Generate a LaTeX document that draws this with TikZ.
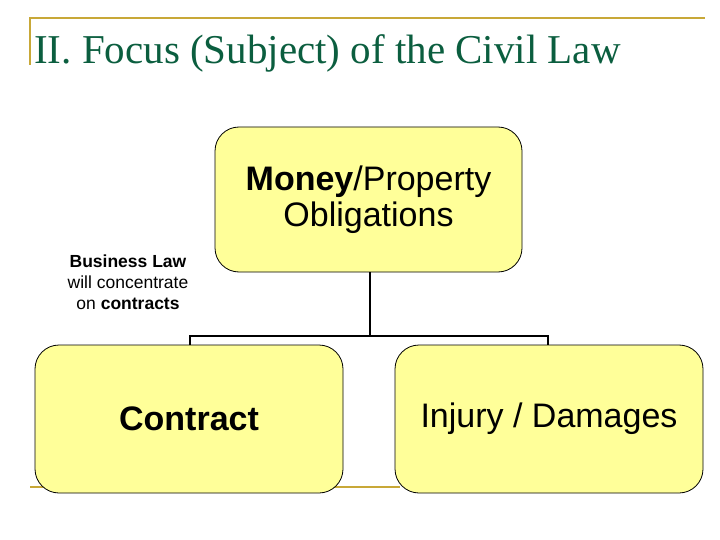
\documentclass[tikz,border=0pt]{standalone}
\usepackage{fontspec}
\setmainfont{Liberation Sans}
\newfontfamily\titlefont{Liberation Serif}
\definecolor{gold}{HTML}{C8A838}
\definecolor{ttl}{HTML}{0B5E3F}
\definecolor{boxy}{HTML}{FFFF99}
\begin{document}
\begin{tikzpicture}[x=1pt,y=-1pt,
  ybox/.style={draw=black,fill=boxy,rounded corners=24pt,line width=0.8pt,align=center},
  conn/.style={draw=black,line width=1.5pt}]
\useasboundingbox (0,0) rectangle (720,540);
\draw[gold,line width=1.2pt] (30,65) -- (30,18) -- (705,18);
\draw[gold,line width=1.2pt] (30,487) -- (400,487);
\node[anchor=base west,text=ttl,font=\titlefont\fontsize{41}{46}\selectfont,inner sep=0] (title) at (34,64) {II. Focus (Subject) of the Civil Law};
\node[ybox,minimum width=307pt,minimum height=145pt,font=\fontsize{34}{36}\selectfont] (top) at (368.5,199.5) {\textbf{Money}/Property\\Obligations};
\node[ybox,minimum width=308pt,minimum height=148pt,font=\bfseries\fontsize{34}{36}\selectfont] (left) at (189,419) {Contract};
\node[ybox,minimum width=308pt,minimum height=148pt,font=\fontsize{34}{36}\selectfont] (right) at (549,419) {Injury / Damages};
\coordinate (j) at (370,336);
\draw[conn] (top.south -| j) -- (j);
\draw[conn] (190,345) |- (j) -| (548,345);
\node[fill=white,align=center,inner sep=2pt,font=\fontsize{17.5}{21}\selectfont] (note) at (128,282) {\textbf{Business Law}\\will concentrate\\on \textbf{contracts}};
\end{tikzpicture}
\end{document}
